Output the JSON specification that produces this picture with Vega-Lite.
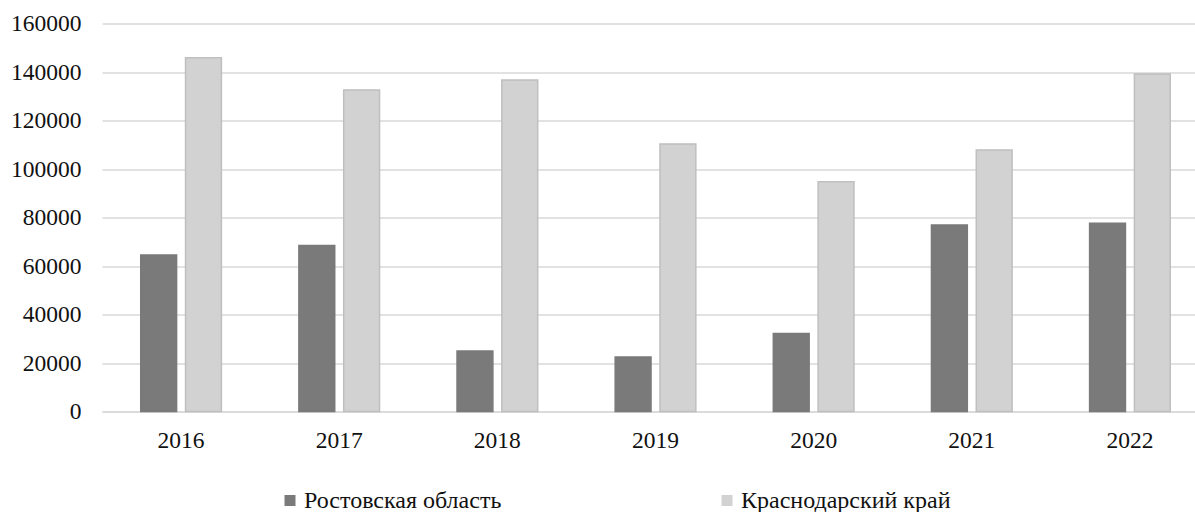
{
  "$schema": "https://vega.github.io/schema/vega-lite/v6.json",
  "autosize": "none",
  "padding": {"left": 102, "top": 23.5, "right": 0, "bottom": 110},
  "width": 1107,
  "height": 388,
  "background": "white",
  "data": {
    "values": [
      {"year": "2016", "region": "Ростовская область", "value": 64500},
      {"year": "2016", "region": "Краснодарский край", "value": 145900},
      {"year": "2017", "region": "Ростовская область", "value": 68500},
      {"year": "2017", "region": "Краснодарский край", "value": 132600},
      {"year": "2018", "region": "Ростовская область", "value": 25000},
      {"year": "2018", "region": "Краснодарский край", "value": 136700},
      {"year": "2019", "region": "Ростовская область", "value": 22500},
      {"year": "2019", "region": "Краснодарский край", "value": 110300},
      {"year": "2020", "region": "Ростовская область", "value": 32200},
      {"year": "2020", "region": "Краснодарский край", "value": 94700},
      {"year": "2021", "region": "Ростовская область", "value": 76900},
      {"year": "2021", "region": "Краснодарский край", "value": 107800},
      {"year": "2022", "region": "Ростовская область", "value": 77600},
      {"year": "2022", "region": "Краснодарский край", "value": 139200}
    ]
  },
  "config": {
    "view": {"stroke": null},
    "font": "Liberation Serif",
    "axis": {"labelFont": "Liberation Serif", "labelFontSize": 23.5, "labelColor": "#111111"},
    "legend": {"labelFont": "Liberation Serif", "labelFontSize": 24, "labelColor": "#111111"}
  },
  "mark": {"type": "bar"},
  "encoding": {
    "x": {
      "field": "year",
      "type": "nominal",
      "scale": {"paddingInner": 0.49, "paddingOuter": 0.245},
      "axis": {
        "title": null,
        "labelAngle": 0,
        "ticks": false,
        "domainColor": "#d9d9d9",
        "domainWidth": 1.5,
        "labelPadding": 17
      }
    },
    "xOffset": {
      "field": "region",
      "type": "nominal",
      "sort": ["Ростовская область", "Краснодарский край"],
      "scale": {"paddingInner": 0.2, "paddingOuter": 0}
    },
    "y": {
      "field": "value",
      "type": "quantitative",
      "scale": {"domain": [0, 160000], "nice": false},
      "axis": {
        "title": null,
        "values": [0, 20000, 40000, 60000, 80000, 100000, 120000, 140000, 160000],
        "format": "d",
        "ticks": false,
        "domain": false,
        "gridColor": "#d9d9d9",
        "gridWidth": 1.5,
        "labelPadding": 21
      }
    },
    "fill": {
      "field": "region",
      "type": "nominal",
      "scale": {
        "domain": ["Ростовская область", "Краснодарский край"],
        "range": ["#7a7a7a", "#d2d2d2"]
      },
      "legend": {
        "title": null,
        "orient": "none",
        "direction": "horizontal",
        "legendX": 176,
        "legendY": 465,
        "padding": 0,
        "symbolType": "square",
        "symbolSize": 121,
        "symbolStrokeWidth": 0,
        "labelFont": "Liberation Serif",
        "labelFontSize": 24,
        "labelOffset": 2,
        "labelLimit": 500,
        "columnPadding": 213
      }
    },
    "stroke": {
      "field": "region",
      "type": "nominal",
      "scale": {
        "domain": ["Ростовская область", "Краснодарский край"],
        "range": ["#7a7a7a", "#bfbfbf"]
      },
      "legend": null
    },
    "strokeWidth": {"value": 1.5}
  }
}
